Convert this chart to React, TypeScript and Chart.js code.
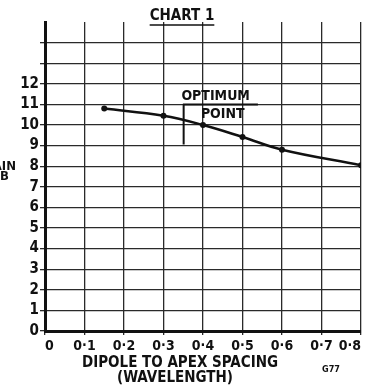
import React, { useEffect, useRef } from "react";
import { Chart, registerables } from "chart.js";

Chart.register(...registerables);

// ---- data ----
const spacing = [0.15, 0.3, 0.4, 0.5, 0.6, 0.8];
const gainDb = [10.8, 10.45, 10.0, 9.42, 8.8, 8.05];
const xTickValues = [0, 0.1, 0.2, 0.3, 0.4, 0.5, 0.6, 0.7, 0.8];
const xTickLabels = ["0", "0·1", "0·2", "0·3", "0·4", "0·5", "0·6", "0·7", "0·8"];
const yTickValues = [0, 1, 2, 3, 4, 5, 6, 7, 8, 9, 10, 11, 12, 13, 14, 15];
const yTickLabels = ["0", "1", "2", "3", "4", "5", "6", "7", "8", "9", "10", "11", "12", "", "", ""];
const titleText = "CHART 1";
const xTitleLines = ["DIPOLE TO APEX SPACING", "(WAVELENGTH)"];
const yTitleLines = ["GAIN", "DB"];
const annotationTop = "OPTIMUM";
const annotationBottom = "POINT";
const figureCode = "G77";

const FONT = '"Liberation Sans Narrow", "DejaVu Sans Condensed", "Arial Narrow", sans-serif';
const INK = "#111";

const decorPlugin = {
  id: "decor",
  afterDraw(chart: any) {
    const ctx = chart.ctx;
    const xs = chart.scales.x;
    const ys = chart.scales.y;
    ctx.save();
    ctx.fillStyle = INK;
    ctx.strokeStyle = INK;

    // Title with underline
    ctx.font = `bold 15px ${FONT}`;
    ctx.textAlign = "center";
    ctx.textBaseline = "middle";
    ctx.fillText(titleText, 182, 16);
    const tw = ctx.measureText(titleText).width;
    ctx.lineWidth = 1.5;
    ctx.beginPath();
    ctx.moveTo(182 - tw / 2, 25);
    ctx.lineTo(182 + tw / 2, 25);
    ctx.stroke();

    // Y axis title (partly cut at the left edge)
    ctx.font = `bold 13px ${FONT}`;
    ctx.textAlign = "right";
    ctx.fillText(yTitleLines[0], 16, 167);
    ctx.fillText(yTitleLines[1], 9, 177);

    // X axis title
    ctx.font = `bold 15px ${FONT}`;
    ctx.textAlign = "center";
    ctx.fillText(xTitleLines[0], 180, 363);
    ctx.fillText(xTitleLines[1], 175, 378);

    // Figure code
    ctx.font = `bold 9px ${FONT}`;
    ctx.fillText(figureCode, 331, 370);

    // Optimum point annotation (positioned in data units)
    ctx.font = `bold 14px ${FONT}`;
    ctx.fillText(annotationTop, xs.getPixelForValue(0.432), ys.getPixelForValue(11.4));
    ctx.fillText(annotationBottom, xs.getPixelForValue(0.45), ys.getPixelForValue(10.5));
    ctx.lineWidth = 2;
    ctx.beginPath();
    ctx.moveTo(xs.getPixelForValue(0.349), ys.getPixelForValue(11));
    ctx.lineTo(xs.getPixelForValue(0.539), ys.getPixelForValue(11));
    ctx.moveTo(xs.getPixelForValue(0.351), ys.getPixelForValue(11));
    ctx.lineTo(xs.getPixelForValue(0.351), ys.getPixelForValue(9.05));
    ctx.stroke();
    ctx.restore();
  },
};

export default function App() {
  const canvasRef = useRef<HTMLCanvasElement | null>(null);

  useEffect(() => {
    document.body.style.margin = "0";
    const canvas = canvasRef.current;
    if (!canvas) return;
    const chart = new Chart(canvas, {
      type: "line",
      data: {
        datasets: [
          {
            data: spacing.map((x, i) => ({ x, y: gainDb[i] })),
            borderColor: INK,
            backgroundColor: INK,
            borderWidth: 2.5,
            pointRadius: 3,
            pointBackgroundColor: INK,
            pointBorderWidth: 0,
            tension: 0.4,
            fill: false,
          },
        ],
      },
      options: {
        animation: false,
        responsive: false,
        maintainAspectRatio: false,
        layout: { padding: { left: 0, right: 4, top: 22, bottom: 0 } },
        plugins: {
          legend: { display: false },
          tooltip: { enabled: false },
          title: { display: false },
        },
        scales: {
          x: {
            type: "linear",
            min: 0,
            max: 0.8,
            afterBuildTicks: (scale: any) => {
              scale.ticks = xTickValues.map((v) => ({ value: v }));
            },
            afterFit: (scale: any) => {
              scale.height = 58;
              scale.paddingLeft = 0;
              scale.paddingRight = 0;
            },
            ticks: {
              autoSkip: false,
              maxRotation: 0,
              padding: 3,
              align: "inner",
              color: INK,
              font: { family: FONT, size: 14, weight: "bold" },
              callback: (_v: any, i: number) => xTickLabels[i],
            },
            grid: {
              color: "#2a2a2a",
              lineWidth: 1.3,
              tickLength: 4,
              drawTicks: true,
            },
            border: { display: true, color: INK, width: 3 },
          },
          y: {
            type: "linear",
            min: 0,
            max: 15,
            afterBuildTicks: (scale: any) => {
              scale.ticks = yTickValues.map((v) => ({ value: v }));
            },
            afterFit: (scale: any) => {
              scale.width = 45;
              scale.paddingTop = 0;
              scale.paddingBottom = 0;
            },
            ticks: {
              autoSkip: false,
              padding: 1,
              color: INK,
              font: { family: FONT, size: 15, weight: "bold" },
              callback: (_v: any, i: number) => yTickLabels[i],
            },
            grid: {
              color: (c: any) => (c.tick && c.tick.value === 15 ? "rgba(0,0,0,0)" : "#2a2a2a"),
              lineWidth: 1.3,
              tickLength: 5,
            },
            border: { display: true, color: INK, width: 3 },
          },
        },
      },
      plugins: [decorPlugin],
    } as any);
    return () => chart.destroy();
  }, []);

  return (
    <div style={{ width: 365, height: 389, background: "#fff" }}>
      <canvas ref={canvasRef} width={365} height={389} style={{ display: "block" }} />
    </div>
  );
}
